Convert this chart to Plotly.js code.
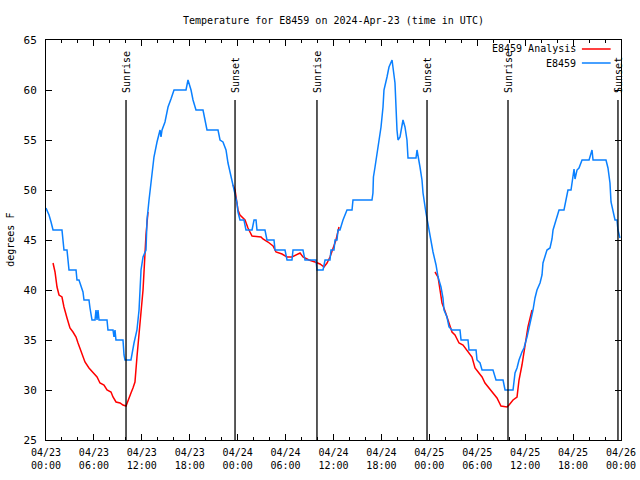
<!DOCTYPE html>
<html>
<head>
<meta charset="utf-8">
<script src="https://cdn.plot.ly/plotly-3.0.1.min.js"></script>
<style>html,body{margin:0;padding:0;background:#fff;}#chart{width:640px;height:480px;}</style>
</head>
<body>
<div id="chart"></div>
<script>
// Hours since 2024-04-23 00:00 UTC
const stationHours = [0.0,0.38,0.63,0.88,2.0,2.13,2.25,2.63,2.75,2.88,3.76,3.88,4.13,4.38,4.63,4.76,5.38,5.51,5.76,6.14,6.26,6.39,6.51,6.64,7.64,7.76,8.39,8.51,8.64,8.76,9.64,9.77,9.89,10.64,10.77,11.02,11.39,11.65,11.9,12.15,12.52,12.65,12.9,13.27,13.52,13.9,14.28,14.4,14.53,14.9,15.28,15.65,16.03,17.53,17.78,18.16,18.41,18.78,19.66,19.91,20.16,21.54,21.79,22.16,22.54,22.79,23.17,23.54,23.92,24.04,24.29,24.79,25.04,25.8,26.05,26.3,26.42,27.42,27.67,28.55,28.68,29.93,30.18,30.8,30.93,32.18,32.43,33.81,33.93,34.69,34.94,35.56,35.69,36.06,36.19,36.44,36.56,36.81,37.19,37.69,38.32,38.44,40.82,40.94,41.0,41.2,41.45,41.7,41.95,42.2,42.32,42.7,42.95,43.33,43.45,43.7,43.95,44.08,44.33,44.58,44.7,44.95,45.2,45.33,46.33,46.46,46.58,46.83,47.08,47.21,47.58,47.83,48.21,48.46,48.84,49.09,49.46,49.71,49.84,50.21,50.46,50.84,51.84,51.97,52.84,52.97,53.85,53.97,54.35,54.6,55.97,56.35,57.23,57.48,58.48,58.73,58.98,59.23,59.6,59.85,60.23,60.6,60.98,61.23,61.48,61.86,62.11,62.23,62.48,62.73,63.11,63.36,63.49,63.74,63.99,64.24,64.86,65.11,65.36,65.74,65.99,66.12,66.24,66.49,66.74,67.12,68.0,68.37,68.5,70.12,70.37,70.62,70.75,71.0,71.25,71.5,71.62,71.87];
const stationTemps = [48.2,47.5,46.8,46,46,45,44,44,43.2,42,42,41,41,40.5,39.8,39,39,38.2,37,37,38,37,38,37,37,36,36,35.3,36,35,35,33.5,33,33,33.7,34.7,36,38,42,43.3,44,47,49,51.5,53.3,54.8,56,55.3,56,56.8,58.3,59.1,60,60,61,60,59,58,58,57,56,56,55,54.8,54,52.7,51.3,50.2,48.7,47.8,47,47,46,46,47,47,46,46,45,45,44,44,43,43,44,44,43,43,42,42,43,43,44,44,45,45,46,46,47,48,48,49,49,49.7,51.3,52.3,53.7,55,56.3,58.3,60,61.3,62.3,63,62.3,60.7,56,55,55.3,56.3,57,56.3,55,53.2,53.2,54,53.3,52.3,51,49.7,47.7,46.5,45,43.8,42.5,41.3,40.3,39.2,38,37.3,36.3,36,36,35,35,34,34,33,32.7,32,32,31,31,30,30,31.7,32.2,33,33.8,34.2,35.3,36.5,38,39.2,40,40.7,41.5,42.7,43.5,44,44.2,45.1,46,46.7,47.5,48,48,49,50,50,51.3,52.1,51.1,52,52.2,53,53,54,53,53,52.2,50.7,48.8,47.8,47,47,46,45.2];

const analysisHours = [0.88,1.13,1.38,1.63,2.0,2.25,2.63,3.0,3.38,3.76,4.01,4.51,4.88,5.38,5.89,6.39,6.76,7.26,7.64,8.14,8.39,8.77,9.27,9.64,10.02,10.27,10.64,10.89,11.14,11.39,11.52,11.9,12.15,12.27,12.52,12.77,
  18.0,
  23.42,23.67,24.04,24.29,24.92,25.29,25.8,26.92,27.17,27.8,28.43,28.8,29.55,30.18,30.8,31.31,31.81,32.18,32.93,33.68,34.31,34.81,35.19,35.56,35.94,36.31,36.69,
  42.0,
  48.71,49.09,49.34,49.59,49.96,50.34,50.84,51.21,51.72,52.22,52.84,53.34,53.72,54.1,54.6,54.97,55.47,55.97,56.47,56.97,57.73,57.98,58.48,58.98,59.23,59.6,59.98,60.35,60.86];
const analysisTemps = [42.7,41.8,40.3,39.5,39.3,38.3,37.2,36.2,35.8,35.3,34.7,33.7,32.8,32.2,31.7,31.3,30.7,30.5,30,29.8,29.3,28.8,28.7,28.5,28.4,29,29.7,30.2,30.8,33.3,34.7,37.8,40,42,45.5,47.8,
  null,
  50.5,50,48,47.5,47,46.2,45.4,45.3,45.1,44.8,44.4,43.8,43.6,43.3,43.3,43.5,43.7,43.3,43,42.8,42.6,42.3,42.7,43.3,44.2,45,46.3,
  null,
  41.8,41.3,40,38.7,37.9,37,35.8,35.5,34.7,34.5,33.8,33.3,32.2,31.8,31.3,30.7,30.2,29.7,29.2,28.4,28.3,28.5,29,29.3,31,32.5,34.5,36.3,38];

const sunHours = [10.02,23.67,33.93,47.71,57.85,71.62];
const sunLabels = ["Sunrise","Sunset","Sunrise","Sunset","Sunrise","Sunset"];

const tickHours = [0,6,12,18,24,30,36,42,48,54,60,66,72];
const tickLabels = ["04/23<br>00:00","04/23<br>06:00","04/23<br>12:00","04/23<br>18:00","04/24<br>00:00","04/24<br>06:00","04/24<br>12:00","04/24<br>18:00","04/25<br>00:00","04/25<br>06:00","04/25<br>12:00","04/25<br>18:00","04/26<br>00:00"];

const seriesNames = ["E8459 Analysis","E8459"];
const seriesColors = ["#ff0000","#0a80ff"];

const FONT = "DejaVu Sans Mono, Liberation Mono, monospace";
const FS = 10;

const traces = [
  {x: analysisHours, y: analysisTemps, mode: "lines", name: seriesNames[0],
   line: {color: seriesColors[0], width: 1.5}, connectgaps: false},
  {x: stationHours, y: stationTemps, mode: "lines", name: seriesNames[1],
   line: {color: seriesColors[1], width: 1.5}}
];

const shapes = sunHours.map(h => ({type: "line", xref: "x", yref: "y", x0: h, x1: h, y0: 25, y1: 59,
  line: {color: "#000", width: 1.3}}));
const annotations = sunHours.map((h, i) => ({xref: "x", yref: "y", x: h, y: 59.5, text: sunLabels[i],
  textangle: -90, showarrow: false, xanchor: "center", yanchor: "bottom",
  font: {family: FONT, size: FS, color: "#000"}}));

// Legend (gnuplot style: text right-aligned, sample to the right)
const legY = [0.9775, 0.9425];
seriesNames.forEach((n, i) => {
  annotations.push({xref: "paper", yref: "paper", x: 0.925, y: legY[i], text: n, showarrow: false,
    xanchor: "right", yanchor: "middle", font: {family: FONT, size: FS, color: "#000"}});
  shapes.push({type: "line", xref: "paper", yref: "paper", x0: 0.932, x1: 0.982, y0: legY[i], y1: legY[i],
    line: {color: seriesColors[i], width: 1.5}});
});

annotations.push({xref: "paper", yref: "paper", x: -0.063, y: 0.5, text: "degrees F", textangle: -90,
  showarrow: false, xanchor: "center", yanchor: "middle", font: {family: FONT, size: FS, color: "#000"}});

const layout = {
  width: 640, height: 480,
  margin: {l: 46, r: 19, t: 40, b: 40},
  paper_bgcolor: "#fff", plot_bgcolor: "#fff",
  showlegend: false,
  title: {text: "Temperature for E8459 on 2024-Apr-23 (time in UTC)", font: {family: FONT, size: FS, color: "#000"},
    x: 0.521, xanchor: "center", y: 0.958, yanchor: "middle"},
  font: {family: FONT, size: FS, color: "#000"},
  xaxis: {range: [0, 72], autorange: false, tickmode: "array", tickvals: tickHours, ticktext: tickLabels,
    ticks: "inside", ticklen: 6, tickcolor: "#000", showgrid: false, zeroline: false,
    showline: true, linecolor: "#000", linewidth: 1, mirror: "allticks", ticklabelstandoff: 3,
    minor: {dtick: 2, ticks: "inside", ticklen: 3, tickcolor: "#000", showgrid: false},
    tickfont: {family: FONT, size: FS, color: "#000"}},
  yaxis: {range: [25, 65], autorange: false, dtick: 5, tick0: 25,
    ticks: "inside", ticklen: 6, tickcolor: "#000", showgrid: false, zeroline: false,
    showline: true, linecolor: "#000", linewidth: 1, mirror: "allticks", ticklabelstandoff: 6,
    tickfont: {family: FONT, size: FS + 1, color: "#000"}},
  shapes: shapes,
  annotations: annotations
};

Plotly.newPlot("chart", traces, layout, {staticPlot: true, displayModeBar: false});
</script>
</body>
</html>
